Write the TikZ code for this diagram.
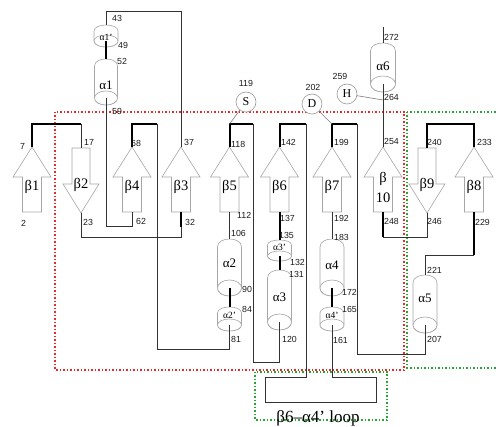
\documentclass[tikz,border=0pt]{standalone}
\usepackage{fontspec}
\setmainfont{Liberation Serif}
\setsansfont{Liberation Sans}
\definecolor{boxred}{RGB}{236,40,40}
\definecolor{boxgreen}{RGB}{40,165,50}
\tikzset{
  conn/.style={draw=black!80, line width=0.9pt},
  boldc/.style={draw=black, line width=2pt},
  strand/.style={draw=black!35, line width=0.6pt, fill=white},
  helix/.style={draw=black!35, line width=0.6pt, fill=white},
  numl/.style={font=\sffamily\fontsize{8.8}{9}\selectfont, inner sep=0pt, anchor=west, text=black!90},
  numc/.style={font=\sffamily\fontsize{8.8}{9}\selectfont, inner sep=0pt, text=black!90},
  blab/.style={font=\fontsize{14.5}{20}\selectfont, inner sep=0pt, align=center},
  hlab/.style={font=\fontsize{13}{14}\selectfont, inner sep=0pt},
  hslab/.style={font=\fontsize{9.5}{10}\selectfont, inner sep=0pt},
  site/.style={circle, draw=black!40, line width=0.6pt, fill=white, minimum size=20pt, inner sep=0pt, font=\fontsize{12}{12}\selectfont},
  siteline/.style={draw=black!50, line width=0.6pt},
  redbox/.style={draw=boxred, dotted, line width=1.5pt},
  greenbox/.style={draw=boxgreen, dotted, line width=1.5pt},
}
\newcommand\myup[3]{%
  \draw[strand] ({#2-19},177) -- (#2,147) -- ({#2+19},177) -- ({#2+9.5},177) -- ({#2+9.5},212) -- ({#2-9.5},212) -- ({#2-9.5},177) -- cycle;
  \coordinate (#1t) at (#2,147);
  \coordinate (#1b) at (#2,212);
  \node[blab] (#1l) at (#2,187) {#3};}
\newcommand\mydown[3]{%
  \draw[strand] ({#2-9},148) -- ({#2+9},148) -- ({#2+9},184) -- ({#2+18},184) -- (#2,213) -- ({#2-18},184) -- ({#2-9},184) -- cycle;
  \coordinate (#1t) at (#2,148);
  \coordinate (#1b) at (#2,213);
  \node[blab] (#1l) at (#2,185) {#3};}
\newcommand\mycyl[9]{%
  \draw[helix] ({#2-#5},{#3+#6}) .. controls ({#2-#5},{#3-0.333*#6}) and ({#2+#5},{#3-0.333*#6}) .. ({#2+#5},{#3+#6}) -- ({#2+#5},#4) .. controls ({#2+#5},{#4+1.333*#6}) and ({#2-#5},{#4+1.333*#6}) .. ({#2-#5},#4) -- cycle;
  \draw[helix] (#2,#4) ellipse [x radius=#5pt, y radius=#6pt];
  \coordinate (#1t) at (#2,#3);
  \coordinate (#1b) at (#2,#4);
  \node[#9] (#1l) at (#2,#7) {#8};}
\newcommand\mynum[4]{\node[numl] (#1) at (#2,#3) {#4};}
\begin{document}
\begin{tikzpicture}[x=1pt,y=-1pt]
\useasboundingbox (0,0) rectangle (496,427);
\begin{scope}
\clip (0,0) rectangle (496,427);
% boxes
\draw[redbox] (55,112) rectangle (404,370);
\draw[greenbox] (407,112) rectangle (505,368);
\draw[greenbox] (255,372) rectangle (387,420);
\end{scope}
% strands
\myup{b1}{32}{β1}
\mydown{b2}{81}{β2}
\myup{b4}{132}{β4}
\myup{b3}{181}{β3}
\myup{b5}{229.5}{β5}
\myup{b6}{279.5}{β6}
\myup{b7}{332}{β7}
\myup{b10}{383}{β\\10}
\mydown{b9}{427}{β9}
\myup{b8}{474}{β8}
% helices
\mycyl{a1p}{106}{25}{41}{12}{6}{37}{α1’}{hslab}
\mycyl{a1}{106}{59}{98}{11.5}{7}{85}{α1}{hlab}
\mycyl{a2}{229.5}{239}{288}{12}{8}{263}{α2}{hlab}
\mycyl{a2p}{229.5}{307}{325}{12}{6}{315}{α2’}{hslab}
\mycyl{a3p}{279.5}{240}{256}{12}{5}{247}{α3’}{hslab}
\mycyl{a3}{279.5}{270}{322}{12}{8}{297}{α3}{hlab}
\mycyl{a4}{332}{239}{288}{12}{8}{265}{α4}{hlab}
\mycyl{a4p}{332}{307}{325}{12}{6}{315}{α4’}{hslab}
\mycyl{a5}{425}{275}{325}{12}{8}{298}{α5}{hlab}
\mycyl{a6}{383}{43}{84}{12.5}{8}{66}{α6}{hlab}
% routing coordinates
\coordinate (top) at (0,124);
\coordinate (roof) at (0,11);
\coordinate (y237) at (0,237);
\coordinate (y226) at (0,226);
\coordinate (y349) at (0,349);
\coordinate (y362) at (0,362);
\coordinate (y354) at (0,354);
\coordinate (y255) at (0,255);
\coordinate (c4) at (157,0);
\coordinate (c5) at (253,0);
\coordinate (c6) at (306,0);
\coordinate (c7) at (357,0);
\coordinate (lnw) at (265,377);
\coordinate (lse) at (376,402);
\coordinate (a6end) at (383,27);
\coordinate (hj) at (383,100);
% connectors
\draw[boldc] (b1t) -- (b1t |- top) -- (b2t |- top);
\draw[conn] (b2t |- top) -- (b2t);
\draw[conn] (b2b) -- (b2b |- y237) -| (b3b);
\draw[boldc] (b3b) -- ++(0,15);
\draw[conn] (b3t) -- (b3t |- roof) -| (a1pt);
\draw[boldc] (a1pb) -- (a1t);
\draw[conn] (a1b) -- (a1b |- y226) -| (b4b);
\draw[boldc] (b4t) -- (b4t |- top) -- (c4 |- top);
\draw[conn] (c4 |- top) -- (c4 |- y349) -| (a2pb);
\draw[boldc] (a2b) -- (a2pt);
\draw[conn] (a2t) -- (b5b);
\draw[boldc] (b5t) -- (b5t |- top) -- (c5 |- top);
\draw[conn] (c5 |- top) -- (c5 |- y362) -| (a3b);
\draw[boldc] (a3t) -- (a3pb);
\draw[boldc] (a3pt) -- (b6b);
\draw[boldc] (b6t) -- (b6t |- top) -- (c6 |- top);
\draw[conn] (c6 |- top) -- (c6 |- lnw) -- (lnw) -- (lnw |- lse) -- (lse) -- (lse |- lnw) -- (a4pb |- lnw) -- (a4pb);
\draw[boldc] (a4pt) -- (a4b);
\draw[conn] (a4t) -- (b7b);
\draw[boldc] (b7t) -- (b7t |- top) -- (c7 |- top);
\draw[conn] (c7 |- top) -- (c7 |- y354) -| (a5b);
\draw[conn] (a5t) -- (a5t |- y255) -- (b8b |- y255);
\draw[boldc] (b8b |- y255) -- (b8b);
\draw[boldc] (b8t) -- (b8t |- top) -- (b9t |- top) -- (b9t);
\draw[conn] (b9b) -- (b9b |- y237) -- (b10b |- y237);
\draw[boldc] (b10b |- y237) -- (b10b);
\draw[conn] (b10t) -- (a6b);
\draw[conn] (a6t) -- (a6end);
% sites
\node[site] (S) at (246,102) {S};
\node[site] (D) at (312,104) {D};
\node[site] (H) at (347,94) {H};
\draw[siteline] (S) -- (b5t |- top);
\draw[siteline] (D) -- (b7t |- top);
\draw[siteline] (H) -- (hj);
\node[numc] (n119) at (246,83) {119};
\node[numc] (n202) at (313,87) {202};
\node[numc] (n259) at (340,76) {259};
% residue numbers
\mynum{n7}{20}{146}{7}
\mynum{n2}{21}{223}{2}
\mynum{n17}{84}{142}{17}
\mynum{n23}{83}{222}{23}
\mynum{n68}{131}{143}{68}
\mynum{n62}{136}{221}{62}
\mynum{n37}{184}{142}{37}
\mynum{n32}{185}{222}{32}
\mynum{n43}{112}{18}{43}
\mynum{n49}{118}{45}{49}
\mynum{n52}{117}{61}{52}
\mynum{n59}{112}{111}{59}
\mynum{n118}{231}{144}{118}
\mynum{n112}{237}{215}{112}
\mynum{n106}{231}{233}{106}
\mynum{n90}{242}{289}{90}
\mynum{n84}{242}{309}{84}
\mynum{n81}{231}{339}{81}
\mynum{n142}{281}{142}{142}
\mynum{n137}{280}{218}{137}
\mynum{n135}{279}{235}{135}
\mynum{n132}{290}{262}{132}
\mynum{n131}{289}{274}{131}
\mynum{n120}{282}{339}{120}
\mynum{n199}{334}{142}{199}
\mynum{n192}{334}{218}{192}
\mynum{n183}{334}{237}{183}
\mynum{n172}{342}{292}{172}
\mynum{n165}{342}{309}{165}
\mynum{n161}{333}{340}{161}
\mynum{n207}{427}{339}{207}
\mynum{n221}{427}{270}{221}
\mynum{n229}{475}{222}{229}
\mynum{n233}{477}{142}{233}
\mynum{n240}{427}{142}{240}
\mynum{n246}{427}{221}{246}
\mynum{n248}{384}{221}{248}
\mynum{n254}{384}{141}{254}
\mynum{n272}{384}{37}{272}
\mynum{n264}{384}{97}{264}
% loop label
\node[font=\fontsize{17}{18}\selectfont, inner sep=0pt] (looplab) at (318,418) {β6–α4’ loop};
\end{tikzpicture}
\end{document}
